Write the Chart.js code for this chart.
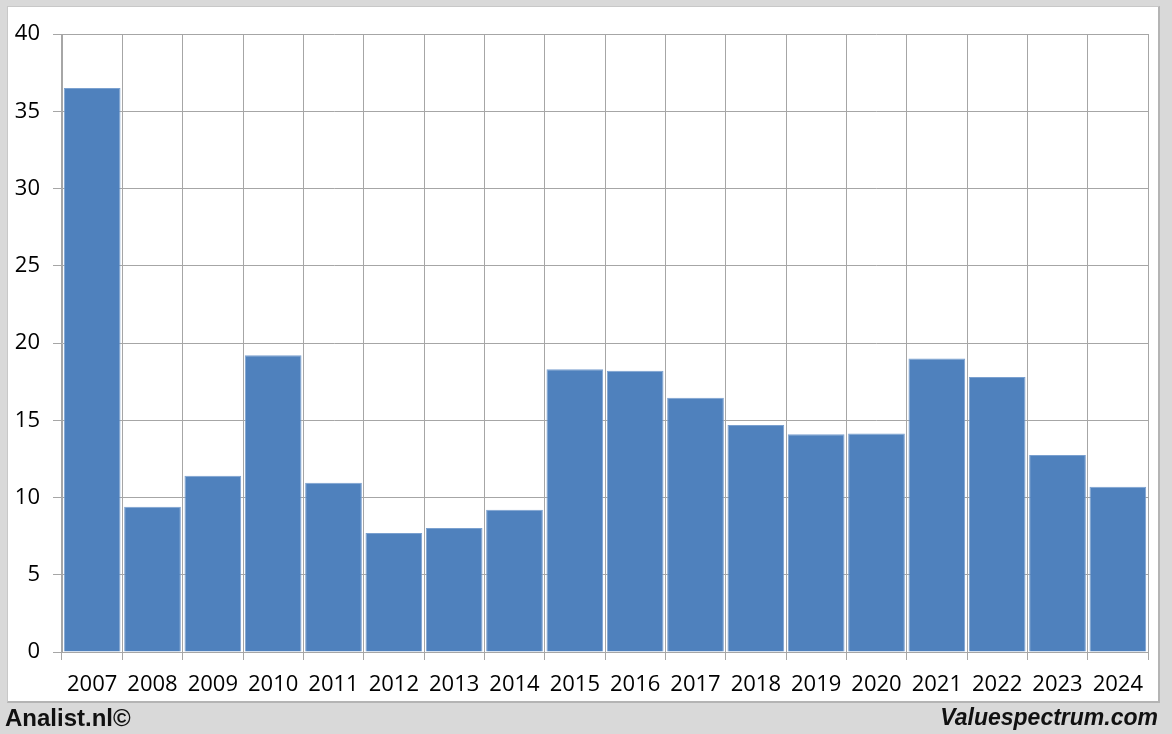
<!DOCTYPE html>
<html>
<head>
<meta charset="utf-8">
<script src="https://cdn.jsdelivr.net/npm/chart.js@4.4.1/dist/chart.umd.min.js"></script>
<style>
  html, body { margin: 0; padding: 0; }
  body { width: 1172px; height: 734px; background: #d9d9d9; position: relative; overflow: hidden; }
  #panel { position: absolute; left: 7px; top: 6px; width: 1150px; height: 694px; background: #fff;
           border: 1px solid #c8c8c8; border-right: 2px solid #b4b4b4; border-bottom: 2px solid #b4b4b4; }
  #wrap { position: absolute; left: 0; top: 0; width: 1172px; height: 734px; }
  .foot { position: absolute; top: 704px; font-family: "Liberation Sans", Arial, sans-serif; font-weight: bold; font-size: 23px; color: #111; }
  #left { left: 5px; font-size: 24px; }
  #right { right: 14px; font-style: italic; }
</style>
</head>
<body>
<div id="panel"></div>
<div id="wrap"><canvas id="c" width="1172" height="734"></canvas></div>
<div class="foot" id="left">Analist.nl©</div>
<div class="foot" id="right">Valuespectrum.com</div>
<script>
// jaren en waarden
const years = ['2007', '2008', '2009', '2010', '2011', '2012', '2013', '2014', '2015',
  '2016', '2017', '2018', '2019', '2020', '2021', '2022', '2023', '2024'];
const values = [36.5, 9.4, 11.4, 19.2, 10.95, 7.7, 8.03, 9.2, 18.3,
  18.2, 16.45, 14.7, 14.1, 14.15, 19.0, 17.8, 12.75, 10.7];
const yTicks = [0, 5, 10, 15, 20, 25, 30, 35, 40];

const tickFont = { family: '"Open Sans", sans-serif', size: 22 };
const gridColor = '#a6a6a6';

new Chart(document.getElementById('c'), {
  type: 'bar',
  data: {
    labels: years,
    datasets: [{
      data: values,
      backgroundColor: '#4f81bd',
      borderColor: '#7aa0cf',
      borderWidth: 1,
      categoryPercentage: 1,
      barPercentage: 0.94
    }]
  },
  options: {
    responsive: false,
    animation: false,
    layout: { padding: { top: 34, right: 24, left: 0, bottom: 0 } },
    plugins: { legend: { display: false }, tooltip: { enabled: false } },
    scales: {
      x: {
        grid: { offset: true, color: gridColor, tickLength: 8, drawTicks: true },
        border: { color: gridColor },
        ticks: { color: '#000', font: tickFont, padding: 12, maxRotation: 0, autoSkip: false },
        afterFit(s) { s.height = 82; }
      },
      y: {
        min: 0,
        max: 40,
        afterBuildTicks(s) { s.ticks = yTicks.map(v => ({ value: v })); },
        grid: { color: gridColor, tickLength: 9 },
        border: { color: gridColor },
        ticks: { color: '#000', font: tickFont, padding: 13 },
        afterFit(s) { s.width = 62; }
      }
    }
  }
});
</script>
</body>
</html>
